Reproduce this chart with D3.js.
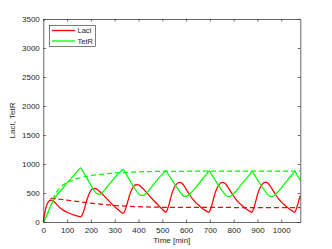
<!DOCTYPE html>
<html>
<head>
<meta charset="utf-8">
<script src="https://cdn.jsdelivr.net/npm/d3@7"></script>
<style>
  body { margin: 0; background: #fff; }
  svg { display: block; font-family: "Liberation Sans", Arial, sans-serif; }
  .ax path, .ax line { stroke: #262626; stroke-width: 0.7; }
  .ax text { fill: #262626; font-size: 8px; font-family: "Liberation Sans", Arial, sans-serif; }
</style>
</head>
<body>
<svg id="chart" width="332" height="249"></svg>
<script>
// ---- data: [time (min), level]
var laciSolid = [
  [0,0],[4,100],[8,190],[12,260],[17,315],[22,350],[28,372],[34,378],[40,368],[48,340],[57,300],
  [70,245],[85,200],[100,168],[115,142],[130,120],[145,102],[157,90],
  [163,120],[170,190],[177,290],[184,390],[191,470],[198,530],[206,570],[214,580],[222,572],
  [232,545],[245,495],[258,440],[272,380],[286,320],[300,265],[312,220],[324,180],[332,158],[336,150],
  [342,185],[349,270],[356,370],[363,470],[371,550],[379,610],[387,640],[394,645],[402,635],
  [412,605],[425,550],[440,480],[455,410],[470,345],[485,280],[498,230],[508,190],[515,168],
  [521,210],[528,300],[535,410],[542,510],[550,590],[558,645],[566,677],[573,684],[581,672],
  [592,620],[604,540],[615,470],[628,395],[642,330],[657,275],[672,225],[686,188],[696,167],
  [702,210],[709,300],[716,410],[723,510],[731,590],[739,645],[747,677],[754,684],[762,672],
  [773,620],[785,540],[796,470],[809,395],[823,330],[838,275],[853,225],[867,188],[876,167],
  [882,210],[889,300],[896,410],[903,510],[911,590],[919,645],[927,677],[934,688],[942,676],
  [953,624],[965,544],[976,474],[989,399],[1003,334],[1018,279],[1033,229],[1047,190],[1056,167],
  [1062,210],[1069,300],[1076,400],[1080,450]
];

var tetrSolid = [
  [0,0],[10,70],[20,170],[30,270],[42,365],[55,450],[70,530],[84,590],[98,665],[112,730],
  [126,790],[140,860],[150,910],[157,932],
  [167,870],[177,800],[187,730],[197,655],[207,585],[217,520],[225,490],[233,480],[242,490],
  [252,525],[265,590],[280,665],[295,740],[310,810],[322,860],[330,890],[336,905],
  [346,840],[356,770],[366,700],[376,630],[386,565],[396,510],[404,475],[412,458],[420,460],
  [430,485],[442,540],[455,605],[470,680],[485,755],[500,825],[510,870],[515,885],
  [525,825],[535,760],[545,695],[555,630],[565,570],[575,515],[584,470],[592,442],[600,440],
  [610,460],[622,510],[635,570],[650,645],[665,720],[680,795],[690,845],[697,880],
  [707,822],[717,757],[727,692],[737,627],[747,567],[757,512],[766,468],[774,440],[782,437],
  [792,458],[804,508],[817,568],[832,643],[847,718],[862,793],[872,843],[876,876],
  [886,820],[896,755],[906,690],[916,625],[926,565],[936,510],[945,468],[953,440],[961,438],
  [971,458],[983,508],[996,568],[1011,643],[1026,718],[1041,793],[1050,840],[1056,875],
  [1066,815],[1076,745],[1080,718]
];

var laciDashed = [
  [30,405],[35,408],[45,405],[60,398],[80,388],
  [100,377],[130,360],[160,345],[200,325],[250,303],[300,285],[360,270],[420,260],[500,254],
  [600,251],[800,250],[1080,250]
];

var tetrDashed = [
  [38,390],[50,470],[60,540],[75,610],[90,660],[110,700],
  [130,732],[150,758],[175,780],[200,800],[240,820],[280,838],[330,852],[380,862],[450,870],
  [550,874],[700,876],[1080,877]
];

var xTicks = [0,100,200,300,400,500,600,700,800,900,1000];
var yTicks = [0,500,1000,1500,2000,2500,3000,3500];
var legendNames = ["LacI", "TetR"];
var legendColors = ["#ff0000", "#00ff00"];

// ---- layout
var svg = d3.select("#chart");
var plotLeft = 43.3, plotRight = 300.3, plotTop = 19, plotBottom = 222;

var x = d3.scaleLinear().domain([0, 1080]).range([plotLeft, plotRight]);
var y = d3.scaleLinear().domain([0, 3500]).range([plotBottom, plotTop]);

var line = d3.line()
  .x(function (d) { return x(d[0]); })
  .y(function (d) { return y(d[1]); })
  .curve(d3.curveMonotoneX);

var plot = svg.append("g");

function drawSeries(data, color, dashed) {
  plot.append("path")
    .datum(data)
    .attr("d", line)
    .attr("fill", "none")
    .attr("stroke", color)
    .attr("stroke-width", 1.25)
    .attr("stroke-dasharray", dashed ? "5,3" : null);
}

drawSeries(laciSolid, "#ff0000", false);
drawSeries(tetrSolid, "#00ff00", false);
drawSeries(laciDashed, "#ff0000", true);
drawSeries(tetrDashed, "#00ff00", true);

// ---- axes (box, ticks pointing inward)
var fmt = d3.format("d");

svg.append("g").attr("class", "ax")
  .attr("transform", "translate(0," + plotBottom + ")")
  .call(d3.axisBottom(x).tickValues(xTicks).tickFormat(fmt).tickSize(-2.5).tickPadding(5).tickSizeOuter(0));

svg.append("g").attr("class", "ax")
  .attr("transform", "translate(0," + plotTop + ")")
  .call(d3.axisTop(x).tickValues(xTicks).tickSize(-2.5).tickFormat("").tickSizeOuter(0));

svg.append("g").attr("class", "ax")
  .attr("transform", "translate(" + plotLeft + ",0)")
  .call(d3.axisLeft(y).tickValues(yTicks).tickFormat(fmt).tickSize(-2.5).tickPadding(3.5).tickSizeOuter(0));

svg.append("g").attr("class", "ax")
  .attr("transform", "translate(" + plotRight + ",0)")
  .call(d3.axisRight(y).tickValues(yTicks).tickSize(-2.5).tickFormat("").tickSizeOuter(0));

// axis labels
svg.append("text")
  .attr("x", (plotLeft + plotRight) / 2)
  .attr("y", 243)
  .attr("text-anchor", "middle")
  .attr("font-size", "8px")
  .attr("fill", "#262626")
  .text("Time [min]");

svg.append("text")
  .attr("transform", "translate(15," + ((plotTop + plotBottom) / 2) + ") rotate(-90)")
  .attr("text-anchor", "middle")
  .attr("font-size", "8px")
  .attr("fill", "#262626")
  .text("LacI, TetR");

// ---- legend
var legend = svg.append("g").attr("transform", "translate(49.5,25.5)");

legend.append("rect")
  .attr("width", 46).attr("height", 21)
  .attr("fill", "#fff")
  .attr("stroke", "#262626")
  .attr("stroke-width", 0.6);

legendNames.forEach(function (name, i) {
  var ly = 5 + i * 10.5;
  legend.append("line")
    .attr("x1", 2.5).attr("x2", 25.5)
    .attr("y1", ly).attr("y2", ly)
    .attr("stroke", legendColors[i])
    .attr("stroke-width", 1.3);
  legend.append("text")
    .attr("x", 28)
    .attr("y", ly)
    .attr("dy", "0.35em")
    .attr("font-size", "7.5px")
    .attr("fill", "#262626")
    .text(name);
});
</script>
</body>
</html>
